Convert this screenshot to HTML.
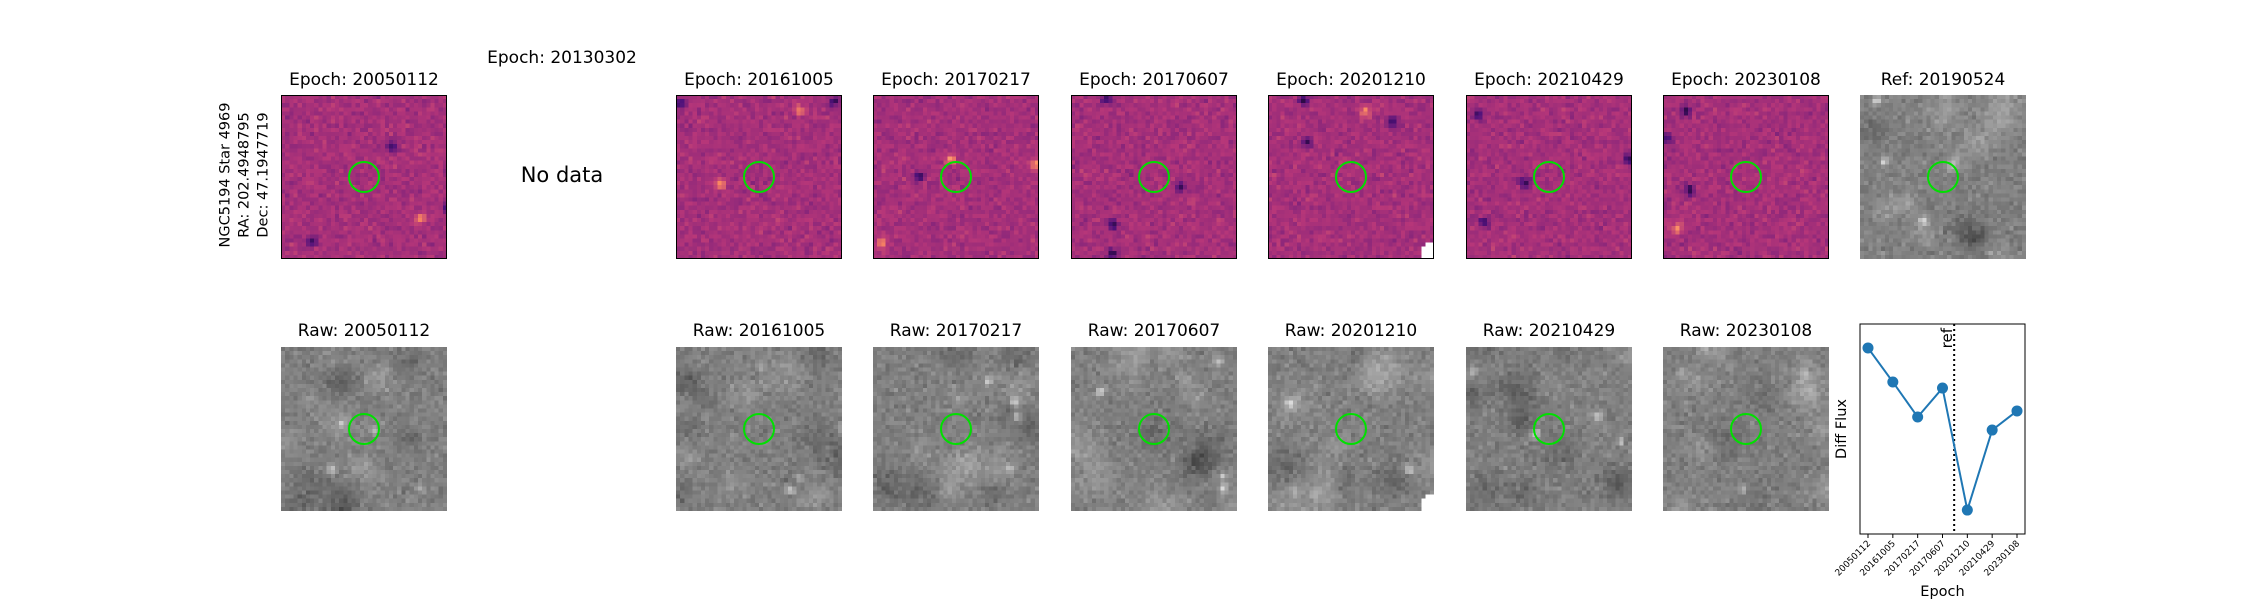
<!DOCTYPE html>
<html><head><meta charset="utf-8">
<style>
html,body{margin:0;padding:0;background:#fff;}
#root{position:relative;width:2250px;height:600px;overflow:hidden;font-family:"DejaVu Sans","Liberation Sans",sans-serif;color:#000;}
.t{position:absolute;font-size:17px;white-space:nowrap;transform:translateX(-50%);line-height:1;}
canvas{position:absolute;image-rendering:pixelated;}
.circ{position:absolute;width:32px;height:32px;border:2px solid #00e000;border-radius:50%;box-sizing:border-box;}
.frame{position:absolute;border:1.5px solid #000;box-sizing:border-box;pointer-events:none;}
</style></head>
<body>
<div id="root">
  <div style="position:absolute;left:245px;top:175px;transform:translate(-50%,-50%) rotate(-90deg);font-size:14.5px;text-align:center;line-height:19px;white-space:nowrap;">NGC5194 Star 4969<br>RA: 202.4948795<br>Dec: 47.1947719</div>
  <div class="t" style="left:562px;top:50px;">Epoch: 20130302</div>
  <div class="t" style="left:562px;top:165px;font-size:21px;">No data</div>
  <svg id="lc" width="2250" height="600" style="position:absolute;left:0;top:0;pointer-events:none;"></svg>
</div>
<script>
// ---- light curve data ----
const epochs = ['20050112','20161005','20170217','20170607','20201210','20210429','20230108'];
const diffFlux = [0.886, 0.724, 0.557, 0.695, 0.114, 0.495, 0.586];
const refPosition = 3.47;
const yDomain = [0, 1];

const root = document.getElementById('root');
const cols = [281, 676, 873, 1071, 1268, 1466, 1663];
const topTitles = epochs.map(e=>'Epoch: '+e);
const rawTitles = epochs.map(e=>'Raw: '+e);
const W=166, H=164, TOPY=95, BOTY=347;

let seed=12345;
function rnd(){seed=(seed*1103515245+12345)&0x7fffffff;return seed/0x7fffffff;}
function gauss(){return (rnd()+rnd()+rnd()+rnd()-2)*1.2;}
function magma(t){
  t=Math.max(0,Math.min(1,t));
  const st=[[0,[0,0,4]],[0.25,[80,18,123]],[0.5,[182,54,121]],[0.75,[251,136,97]],[1,[252,253,191]]];
  for(let i=0;i<st.length-1;i++){const [a,ca]=st[i],[b,cb]=st[i+1];if(t<=b){const f=(t-a)/(b-a);return ca.map((v,k)=>Math.round(v+(cb[k]-v)*f));}}
  return st[4][1];
}
function makePanel(x,y,kind,name,idx,corner){
  const c=document.createElement('canvas');
  c.width=40;c.height=40;
  c.style.left=x+'px';c.style.top=y+'px';c.style.width=W+'px';c.style.height=H+'px';
  
  
  const ctx=c.getContext('2d');const img=ctx.createImageData(40,40);
  const spots=[];for(let k=0;k<4;k++)spots.push([rnd()*40,rnd()*40,rnd()<0.5?1:-1]);
  const blobs=[];for(let k=0;k<14;k++)blobs.push([rnd()*40,rnd()*40,rnd()<0.5?1:-1,2+rnd()*3]);
  for(let j=0;j<40;j++)for(let i=0;i<40;i++){
    let r,g,b;
    if(kind==='diff'){
      let v=0.46+0.045*gauss();
      for(const s of spots){const d=(i-s[0])**2+(j-s[1])**2;v+=s[2]*0.3*Math.exp(-d/1.5);}
      [r,g,b]=magma(v);
    } else {
      let v=128+13*gauss();
      for(const s of blobs){const d=(i-s[0])**2+(j-s[1])**2;v+=s[2]*22*Math.exp(-d/(s[3]*s[3]));}
      for(const s of spots){const d=(i-s[0])**2+(j-s[1])**2;v+=80*Math.exp(-d/1.2)*(s[2]>0?1:0.6);}
      v=Math.max(60,Math.min(250,v));r=g=b=Math.round(v);
    }
    if(corner && i>=37 && j>=36 && (i-37)+(j-36)>=1){r=g=b=255;}
    const o=(j*40+i)*4;img.data[o]=r;img.data[o+1]=g;img.data[o+2]=b;img.data[o+3]=255;
  }
  ctx.putImageData(img,0,0);
  root.appendChild(c);
  const ci=document.createElement('div');ci.className='circ';
  ci.style.left=(x+W/2-16)+'px';ci.style.top=(y+H/2-16)+'px';
  
  
  root.appendChild(ci);
  if(kind==='diff'){const f=document.createElement('div');f.className='frame';
    f.style.left=x+'px';f.style.top=y+'px';f.style.width=W+'px';f.style.height=H+'px';
    
    
    root.appendChild(f);}
}
function addTitle(txt,x,y,name){
  const d=document.createElement('div');d.className='t';d.textContent=txt;
  d.style.left=x+'px';d.style.top=y+'px';
  
  
  root.appendChild(d);
}
cols.forEach((x,i)=>{
  addTitle(topTitles[i],x+W/2,72,'diff-title');
  makePanel(x,TOPY,'diff','diff-image',i,i===4);
  addTitle(rawTitles[i],x+W/2,323,'raw-title');
  makePanel(x,BOTY,'raw','raw-image',i,i===4);
});
addTitle('Ref: 20190524',1860+W/2,72,'ref-title');
makePanel(1860,TOPY,'raw','ref-image',9,false);

// ---- light curve ----
const svg=document.getElementById('lc');const NS='http://www.w3.org/2000/svg';
const ax={l:1860,r:2025,t:324,b:534};
const xPad=8, xStep=(ax.r-ax.l-2*xPad)/(epochs.length-1);
function xs(i){return ax.l+xPad+i*xStep;}
function ys(v){return ax.b-(v-yDomain[0])/(yDomain[1]-yDomain[0])*(ax.b-ax.t);}
function el(tag,attrs,name){const e=document.createElementNS(NS,tag);for(const k in attrs)e.setAttribute(k,attrs[k]);
  
  
  svg.appendChild(e);return e;}
el('rect',{x:ax.l,y:ax.t,width:ax.r-ax.l,height:ax.b-ax.t,fill:'#fff',stroke:'#000','stroke-width':1},'plot-area');
el('line',{x1:xs(refPosition),x2:xs(refPosition),y1:ax.t,y2:ax.b,stroke:'#000','stroke-width':2,'stroke-dasharray':'2,3'},'ref-line');
const rt=el('text',{x:0,y:0,'font-size':15,'text-anchor':'end',transform:`translate(${xs(refPosition)-2},${ax.t+4}) rotate(-90)`},'ref-label');rt.textContent='ref';
el('polyline',{points:diffFlux.map((v,i)=>xs(i)+','+ys(v)).join(' '),fill:'none',stroke:'#1f77b4','stroke-width':2},'flux-line');
diffFlux.forEach((v,i)=>{
  el('circle',{cx:xs(i),cy:ys(v),r:5.5,fill:'#1f77b4'},'flux-point');
  el('line',{x1:xs(i),x2:xs(i),y1:ax.b,y2:ax.b+4,stroke:'#000','stroke-width':1},'x-tick');
  const t=el('text',{x:0,y:0,'font-size':9,'text-anchor':'end',transform:`translate(${xs(i)+3},${ax.b+10}) rotate(-45)`},'x-tick-label');t.textContent=epochs[i];
});
const xl=el('text',{x:(ax.l+ax.r)/2,y:596,'font-size':14.5,'text-anchor':'middle'},'x-axis-title');xl.textContent='Epoch';
const yl=el('text',{x:0,y:0,'font-size':14.5,'text-anchor':'middle',transform:`translate(1846,${(ax.t+ax.b)/2}) rotate(-90)`},'y-axis-title');yl.textContent='Diff Flux';
</script>
</body></html>
